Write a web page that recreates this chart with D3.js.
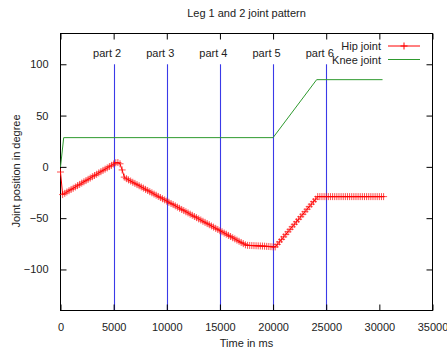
<!DOCTYPE html>
<html lang="en">
<head>
  <meta charset="UTF-8">
  <title>Leg 1 and 2 joint pattern</title>
  <style>
    body { margin: 0; background: #fff; }
    svg text { font-family: "Liberation Sans", Arial, sans-serif; font-size: 11px; fill: #222; }
  </style>
</head>
<body>
  <div class="chart"></div>
  <script src="https://cdnjs.cloudflare.com/ajax/libs/d3/7.8.5/d3.min.js"></script>
  <script>
    const xTicks = [0, 5000, 10000, 15000, 20000, 25000, 30000, 35000];
    const yTicks = [-100, -50, 0, 50, 100];

    const partTimes = [5000, 10000, 15000, 20000, 25000];
    const partLabels = ['part 2', 'part 3', 'part 4', 'part 5', 'part 6'];
    const partTop = 100;

    // hip joint, sampled every 200 ms
    const hipMs = [
      0, 200, 400, 600, 800, 1000, 1200, 1400, 1600, 1800,
      2000, 2200, 2400, 2600, 2800, 3000, 3200, 3400, 3600, 3800,
      4000, 4200, 4400, 4600, 4800, 5000, 5200, 5400, 5600, 5800,
      6000, 6200, 6400, 6600, 6800, 7000, 7200, 7400, 7600, 7800,
      8000, 8200, 8400, 8600, 8800, 9000, 9200, 9400, 9600, 9800,
      10000, 10200, 10400, 10600, 10800, 11000, 11200, 11400, 11600, 11800,
      12000, 12200, 12400, 12600, 12800, 13000, 13200, 13400, 13600, 13800,
      14000, 14200, 14400, 14600, 14800, 15000, 15200, 15400, 15600, 15800,
      16000, 16200, 16400, 16600, 16800, 17000, 17200, 17400, 17600, 17800,
      18000, 18200, 18400, 18600, 18800, 19000, 19200, 19400, 19600, 19800,
      20000, 20200, 20400, 20600, 20800, 21000, 21200, 21400, 21600, 21800,
      22000, 22200, 22400, 22600, 22800, 23000, 23200, 23400, 23600, 23800,
      24000, 24200, 24400, 24600, 24800, 25000, 25200, 25400, 25600, 25800,
      26000, 26200, 26400, 26600, 26800, 27000, 27200, 27400, 27600, 27800,
      28000, 28200, 28400, 28600, 28800, 29000, 29200, 29400, 29600, 29800,
      30000, 30200, 30400
    ];
    const hipDeg = [
      -5, -27, -25.8, -24.5, -23.3, -22, -20.8, -19.6, -18.3, -17.1,
      -15.8, -14.6, -13.4, -12.1, -10.9, -9.6, -8.4, -7.2, -5.9, -4.7,
      -3.4, -2.2, -1, 0.3, 1.5, 2.8, 4, 4.2, 3, -3,
      -10, -11.5, -12.7, -13.8, -15, -16.1, -17.3, -18.4, -19.6, -20.7,
      -21.9, -23, -24.2, -25.3, -26.5, -27.6, -28.8, -29.9, -31.1, -32.2,
      -33.4, -34.5, -35.7, -36.8, -38, -39.2, -40.3, -41.5, -42.6, -43.8,
      -44.9, -46.1, -47.2, -48.4, -49.5, -50.7, -51.8, -53, -54.1, -55.3,
      -56.4, -57.6, -58.7, -59.9, -61, -62.2, -63.3, -64.5, -65.6, -66.8,
      -67.9, -69.1, -70.2, -71.4, -72.5, -73.7, -74.8, -76, -76.5, -76.6,
      -76.7, -76.8, -76.9, -77, -77.1, -77.2, -77.3, -77.5, -77.6, -77.8,
      -78, -78, -75.6, -73.1, -70.7, -68.2, -65.8, -63.3, -60.9, -58.4,
      -56, -53.5, -51.1, -48.6, -46.2, -43.7, -41.3, -38.8, -36.4, -33.9,
      -31.5, -29, -29, -29, -29, -29, -29, -29, -29, -29,
      -29, -29, -29, -29, -29, -29, -29, -29, -29, -29,
      -29, -29, -29, -29, -29, -29, -29, -29, -29, -29,
      -29, -29, -29
    ];

    const kneeMs = [0, 300, 20000, 24100, 30300];
    const kneeDeg = [0, 28.5, 28.5, 85, 85];

    const width = 447, height = 350;
    const margin = { left: 60.5, right: 14.5, top: 33.5, bottom: 39.5 };

    const x = d3.scaleLinear().domain([0, 35000]).range([margin.left, width - margin.right]);
    const y = d3.scaleLinear().domain([-140, 130]).range([height - margin.bottom, margin.top]);

    const svg = d3.select('.chart').append('svg')
      .attr('width', width)
      .attr('height', height);

    // part boundaries
    svg.append('g').selectAll('line')
      .data(partTimes)
      .join('line')
      .attr('x1', d => Math.round(x(d)) + 0.5)
      .attr('x2', d => Math.round(x(d)) + 0.5)
      .attr('y1', y(partTop))
      .attr('y2', y(-140))
      .attr('stroke', '#3a3ae8')
      .attr('stroke-width', 1.1);

    svg.append('g').selectAll('text')
      .data(partTimes)
      .join('text')
      .attr('x', d => x(d) - 6.5)
      .attr('y', 57)
      .attr('text-anchor', 'middle')
      .text((d, i) => partLabels[i]);

    // axes with inward ticks, mirrored
    const tickLen = 6;
    const frame = svg.append('g');
    frame.append('g')
      .attr('transform', `translate(0,${y(-140)})`)
      .call(d3.axisBottom(x).tickValues(xTicks).tickSizeInner(-tickLen).tickSizeOuter(0).tickPadding(13).tickFormat(d3.format('d')));
    frame.append('g')
      .attr('transform', `translate(0,${y(130)})`)
      .call(d3.axisTop(x).tickValues(xTicks).tickSizeInner(-tickLen).tickSizeOuter(0).tickFormat(''));
    frame.append('g')
      .attr('transform', `translate(${x(0)},0)`)
      .call(d3.axisLeft(y).tickValues(yTicks).tickSizeInner(-tickLen).tickSizeOuter(0).tickPadding(12));
    frame.append('g')
      .attr('transform', `translate(${x(35000)},0)`)
      .call(d3.axisRight(y).tickValues(yTicks).tickSizeInner(-tickLen).tickSizeOuter(0).tickFormat(''));
    frame.selectAll('.domain').remove();
    frame.selectAll('.tick line').attr('stroke', '#000');
    frame.selectAll('.tick text').attr('font-size', null).attr('font-family', null).attr('fill', '#222');

    svg.append('rect')
      .attr('x', x(0))
      .attr('y', y(130))
      .attr('width', x(35000) - x(0))
      .attr('height', y(-140) - y(130))
      .attr('fill', 'none')
      .attr('stroke', '#000');

    // knee joint
    const kneePts = kneeMs.map((t, i) => [t, kneeDeg[i]]);
    svg.append('path')
      .datum(kneePts)
      .attr('d', d3.line().x(d => x(d[0])).y(d => y(d[1])))
      .attr('fill', 'none')
      .attr('stroke', '#2e9a2e')
      .attr('stroke-width', 1);

    // hip joint with + markers
    const hipPts = hipMs.map((t, i) => [t, hipDeg[i]]);
    svg.append('path')
      .datum(hipPts)
      .attr('d', d3.line().x(d => x(d[0])).y(d => y(d[1])))
      .attr('fill', 'none')
      .attr('stroke', '#f00')
      .attr('stroke-width', 1);

    const m = 3.5;
    svg.append('g').selectAll('path')
      .data(hipPts)
      .join('path')
      .attr('d', d => {
        const px = x(d[0]), py = y(d[1]);
        return `M${px - m},${py}H${px + m}M${px},${py - m}V${py + m}`;
      })
      .attr('stroke', '#f00')
      .attr('stroke-opacity', 0.7)
      .attr('stroke-width', 1);

    // legend
    const legend = svg.append('g');
    const legendRows = [
      { name: 'Hip joint', color: '#f00', marker: true },
      { name: 'Knee joint', color: '#2e9a2e', marker: false }
    ];
    legendRows.forEach((r, i) => {
      const ly = 46 + i * 13.5;
      legend.append('text')
        .attr('x', 381)
        .attr('y', ly + 4)
        .attr('text-anchor', 'end')
        .text(r.name);
      legend.append('line')
        .attr('x1', 388).attr('x2', 420)
        .attr('y1', ly).attr('y2', ly)
        .attr('stroke', r.color);
      if (r.marker) {
        legend.append('path')
          .attr('d', `M${404 - m},${ly}H${404 + m}M404,${ly - m}V${ly + m}`)
          .attr('stroke', r.color);
      }
    });

    // titles
    svg.append('text')
      .attr('x', 246.5)
      .attr('y', 17)
      .attr('text-anchor', 'middle')
      .text('Leg 1 and 2 joint pattern');

    svg.append('text')
      .attr('x', 246.5)
      .attr('y', 347)
      .attr('text-anchor', 'middle')
      .text('Time in ms');

    svg.append('text')
      .attr('transform', 'translate(19.5,171) rotate(-90)')
      .attr('text-anchor', 'middle')
      .text('Joint position in degree');
  </script>
</body>
</html>
